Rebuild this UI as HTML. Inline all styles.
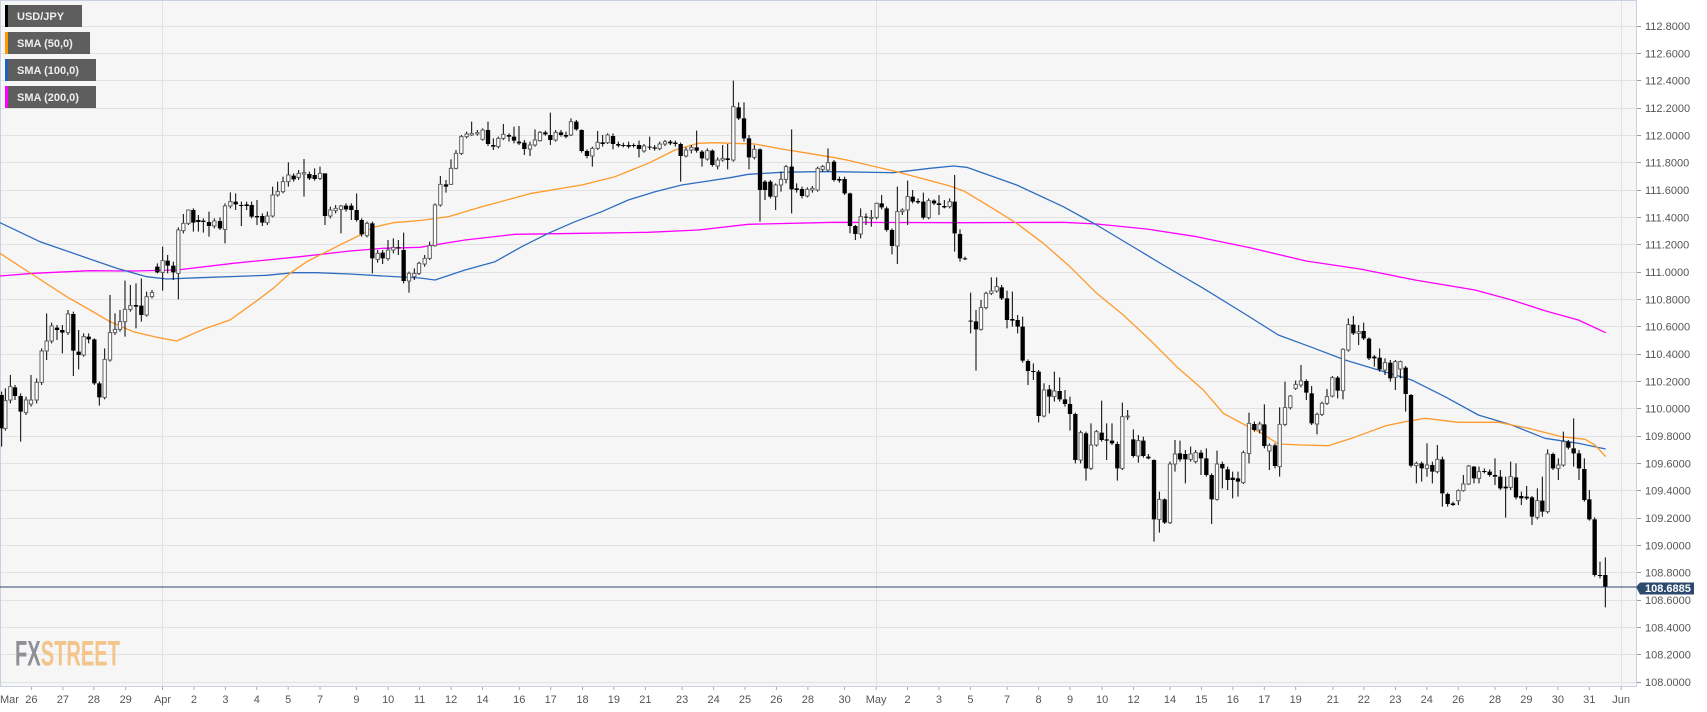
<!DOCTYPE html>
<html><head><meta charset="utf-8"><style>
html,body{margin:0;padding:0;background:#fff;}
svg{display:block;}
text{font-family:"Liberation Sans",Arial,sans-serif;}
</style></head><body>
<svg width="1707" height="712" viewBox="0 0 1707 712" xmlns="http://www.w3.org/2000/svg">
<rect x="0" y="0" width="1707" height="712" fill="#fff"/>
<rect x="0" y="0" width="1636" height="686.5" fill="#f6f6f6"/>
<g stroke="#e2e2e2" stroke-width="1" fill="none">
<path d="M0 26.5H1636M0 53.5H1636M0 80.5H1636M0 108.5H1636M0 135.5H1636M0 162.5H1636M0 190.5H1636M0 217.5H1636M0 244.5H1636M0 272.5H1636M0 299.5H1636M0 326.5H1636M0 354.5H1636M0 381.5H1636M0 408.5H1636M0 436.5H1636M0 463.5H1636M0 490.5H1636M0 518.5H1636M0 545.5H1636M0 572.5H1636M0 600.5H1636M0 627.5H1636M0 654.5H1636M0 682.5H1636"/>
<path d="M162.5 0V686M876.5 0V686M1621.5 0V686"/>
</g>
<g stroke="#c8d0e2" stroke-width="1" fill="none">
<path d="M0.5 0V686.5M0 0.5H1636.5M1636.5 0V686.5M0 686.5H1636.5"/>
</g>

<!-- logo -->
<text x="15" y="665.5" font-weight="bold" font-size="35" textLength="105" lengthAdjust="spacingAndGlyphs"><tspan fill="#8e9096">FX</tspan><tspan fill="#f4c58a">STREET</tspan></text>

<!-- SMAs -->
<g fill="none" stroke-width="1.3" stroke-linejoin="round">
<polyline stroke="#ff00ff" points="0,276 33.3,273.3 90,270.7 133.3,271 176.7,270 233.3,263.3 300,256.7 350,251 383.3,248.3 420,247.3 465,240 515,234.3 581.7,233.3 648.3,232.3 698.3,230 748.3,224.3 835,222.3 963.3,222.7 1063.3,222.3 1096.7,224 1146.7,229 1196.7,236.7 1250,247.7 1306,261 1360,269 1415,280 1475,290 1511.7,300 1545,310.7 1578.3,320 1605.7,332.7"/>
<polyline stroke="#2f6cc0" points="0,222.7 40,241.7 83.3,256.7 116.7,268.3 146.7,276.7 166.7,279 200,277.7 266.7,275.3 293.3,272.7 316.7,272.7 350,274 383.3,276 420,278 435,280 465,270 495,261.7 521.7,246.7 548.3,233.3 575,221.7 601.7,211.7 628.3,200 655,191.7 681.7,185 708.3,181 730,177.7 748.3,174.3 781.7,172.3 815,171.7 835,171.7 893.3,172.7 930,168.3 953.3,166 966.7,167.3 1016.7,185 1063.3,206.7 1096.7,225 1130,245 1163.3,265 1203.3,288.3 1245,314 1278.3,335 1311.7,347.3 1345,360 1378.3,370 1411.7,380 1445,396.7 1478.3,415 1511.7,425 1545,438.3 1578.3,443.3 1605.7,449"/>
<polyline stroke="#ff9a2a" points="0,253.3 33.3,275 66.7,296.7 90,310 110,321.7 133.3,331.7 156.7,337.3 176.7,341 203.3,329.3 230,320 253.3,303.3 273.3,288.3 290,273.3 306.7,261.7 323.3,253.3 343.3,243.3 360,235 373.3,227.3 393.3,222.7 420,220.5 448.3,216.7 481.7,206.7 531.7,193.3 581.7,185 615,176.7 648.3,163.3 675,150 698.3,143.3 715,142.7 731.7,143.3 755,144 781.7,149 808.3,153.3 835,157.7 846.7,160 896.7,171.7 950,186 963.3,190.7 990,206.7 1016.7,223.3 1043.3,243.3 1070,266.7 1096.7,293.3 1123.3,315 1150,340 1176.7,366.7 1203.3,390 1223.3,413.3 1245,425 1261.7,433.3 1278.3,444 1301.7,445 1328.3,445.7 1351.7,438.3 1385,426 1405,421.7 1425,418.3 1458.3,422.3 1498.3,422.3 1528.3,428.3 1561.7,436.7 1585,439.3 1595,445 1605.7,456.7"/>
</g>

<!-- Candles segment A -->
<g transform="translate(0 140) scale(0.333333)">
<path stroke="#000" stroke-width="3" fill="none" d="M5 755V920M16 745V872M31 705V790M45 735V780M62 760V905M78 770V825M93 705V800M110 715V790M125 625V735M140 520V660M155 548V610M171 555V600M187 555V640M204 510V585M220 515V708M236 570V688M251 580V650M266 580V610M283 595V735M298 725V797M314 625V778M330 465V665M345 520V585M360 510V575M375 422V590M391 435V515M408 430V565M424 415V545M440 455V530M456 450V475M472 370V400M488 320V452M503 345V400M520 365V420M535 262V478M550 222V280M565 208V255M580 205V275M595 225V275M610 235V278M627 215V290M643 235V265M660 232V270M675 190V310M691 157V205M707 160V210M724 185V258M740 185V210M755 185V235M771 180V255M787 220V258M802 215V255M818 140V232M833 125V170M849 110V160M865 67V140M881 100V125M896 90V120M912 57V170M928 95V120M944 85V122M960 80V120M975 100V255M991 200V235M1007 195V220M1023 195V280M1038 190V215M1054 190V240M1070 160V245M1085 235V290M1101 245V292M1117 245V400M1133 330V368M1148 330V372M1164 300V362M1180 295V340M1195 300V345M1211 278V430M1227 395V458M1243 385V420"/>
<path fill="#000" d="M-1.5 765h13v100h-13zM38.5 742h13v26h-13zM55.5 768h13v47h-13zM164.5 563h13v7h-13zM180.5 570h13v8h-13zM213.5 522h13v110h-13zM229.5 635h13v10h-13zM259.5 590h13v8h-13zM276.5 598h13v132h-13zM291.5 730h13v42h-13zM401.5 495h13v5h-13zM417.5 497h13v28h-13zM465.5 380h13v17h-13zM496.5 362h13v15h-13zM513.5 377h13v20h-13zM573.5 210h13v38h-13zM588.5 240h13v6h-13zM603.5 242h13v4h-13zM620.5 246h13v12h-13zM653.5 243h13v22h-13zM700.5 185h13v8h-13zM717.5 195h13v3h-13zM733.5 193h13v5h-13zM748.5 195h13v35h-13zM764.5 228h13v4h-13zM780.5 228h13v20h-13zM874.5 107h13v11h-13zM921.5 102h13v13h-13zM937.5 105h13v12h-13zM968.5 100h13v128h-13zM1031.5 197h13v11h-13zM1047.5 197h13v13h-13zM1063.5 210h13v30h-13zM1078.5 240h13v43h-13zM1110.5 250h13v105h-13zM1141.5 338h13v17h-13zM1188.5 322h13v3h-13zM1204.5 330h13v93h-13z"/>
<path fill="#fff" stroke="#606060" stroke-width="3" d="M11 782h10v83h-10zM26 740h10v40h-10zM73 780h10v38h-10zM88 780h10v12h-10zM105 727h10v53h-10zM120 633h10v94h-10zM135 603h10v30h-10zM150 558h10v45h-10zM199 522h10v56h-10zM246 590h10v55h-10zM309 658h10v114h-10zM325 578h10v82h-10zM340 568h10v10h-10zM355 545h10v23h-10zM370 508h10v37h-10zM386 497h10v11h-10zM435 470h10v55h-10zM451 458h10v12h-10zM483 362h10v35h-10zM530 270h10v130h-10zM545 250h10v22h-10zM560 210h10v40h-10zM638 243h10v15h-10zM670 198h10v70h-10zM686 185h10v13h-10zM797 228h10v20h-10zM813 165h10v63h-10zM828 155h10v10h-10zM844 125h10v30h-10zM860 105h10v20h-10zM891 100h10v12h-10zM907 98h10v4h-10zM955 100h10v15h-10zM986 210h10v18h-10zM1002 205h10v7h-10zM1018 198h10v10h-10zM1096 250h10v37h-10zM1128 340h10v18h-10zM1159 330h10v26h-10zM1175 322h10v8h-10zM1222 400h10v23h-10zM1238 400h10v10h-10z"/>
</g>

<!-- Candles segment B -->
<g transform="translate(415 70) scale(0.333333)">
<path stroke="#000" stroke-width="3" fill="none" d="M12 575V615M29 555V590M44 515V570M60 400V530M76 318V410M93 330V368M108 268V345M123 240V298M139 195V255M155 185V205M170 155V198M187 180V197M203 175V212M219 155V228M235 205V240M250 200V235M265 162V210M282 190V215M297 170V220M312 168V225M328 210V255M345 215V258M360 178V230M375 183V215M391 182V197M406 128V225M422 180V215M438 180V200M453 185V205M468 145V198M484 150V182M500 178V248M516 238V265M532 230V290M548 183V240M563 195V230M578 190V222M594 190V238M610 215V232M625 218V232M641 215V235M656 220V233M672 212V262M687 222V248M704 200V240M719 225V242M734 215V240M750 210V228M766 210V225M781 212V230M797 218V335M813 232V262M829 225V250M845 182V248M861 240V290M877 235V272M892 238V290M908 262V298M923 225V275M938 222V298M955 32V275M971 97V150M987 97V215M1002 195V298M1018 225V268M1035 235V455M1050 330V390M1066 330V385M1082 340V420M1098 305V365M1113 285V340M1130 178V430M1145 340V368M1161 350V385M1177 352V382M1192 348V368M1208 290V365M1223 285V305M1239 235V305"/>
<path fill="#000" d="M86.5 343h13v7h-13zM212.5 180h13v42h-13zM228.5 225h13v5h-13zM275.5 195h13v5h-13zM290.5 200h13v12h-13zM305.5 215h13v5h-13zM321.5 218h13v19h-13zM384.5 187h13v6h-13zM399.5 195h13v15h-13zM431.5 187h13v8h-13zM446.5 195h13v5h-13zM477.5 155h13v23h-13zM493.5 180h13v63h-13zM509.5 243h13v15h-13zM556.5 217h13v5h-13zM587.5 198h13v24h-13zM603.5 222h13v5h-13zM618.5 225h13v3h-13zM634.5 225h13v5h-13zM649.5 225h13v3h-13zM665.5 225h13v12h-13zM697.5 230h13v3h-13zM712.5 232h13v4h-13zM759.5 215h13v5h-13zM774.5 218h13v4h-13zM790.5 222h13v36h-13zM838.5 232h13v10h-13zM854.5 245h13v20h-13zM885.5 242h13v43h-13zM931.5 265h13v5h-13zM964.5 112h13v33h-13zM980.5 145h13v60h-13zM995.5 205h13v57h-13zM1028.5 238h13v122h-13zM1043.5 335h13v25h-13zM1059.5 335h13v45h-13zM1123.5 290h13v68h-13zM1138.5 355h13v5h-13zM1154.5 357h13v21h-13z"/>
<path fill="#fff" stroke="#606060" stroke-width="3" d="M7 580h10v30h-10zM24 565h10v17h-10zM39 527h10v38h-10zM55 405h10v122h-10zM71 343h10v62h-10zM103 295h10v48h-10zM118 250h10v45h-10zM134 200h10v50h-10zM150 192h10v8h-10zM165 190h10v5h-10zM182 188h10v4h-10zM198 180h10v28h-10zM245 205h10v25h-10zM260 193h10v12h-10zM340 225h10v12h-10zM355 210h10v15h-10zM370 187h10v25h-10zM417 187h10v23h-10zM463 155h10v40h-10zM527 235h10v23h-10zM543 217h10v18h-10zM573 195h10v23h-10zM682 228h10v15h-10zM729 222h10v14h-10zM745 215h10v7h-10zM808 240h10v18h-10zM824 232h10v8h-10zM872 242h10v25h-10zM903 270h10v18h-10zM918 265h10v5h-10zM950 110h10v160h-10zM1013 238h10v24h-10zM1077 345h10v35h-10zM1093 328h10v17h-10zM1108 290h10v38h-10zM1172 358h10v20h-10zM1187 355h10v5h-10zM1203 295h10v65h-10zM1218 290h10v8h-10zM1234 278h10v22h-10z"/>
</g>

<!-- Candles segment C -->
<g transform="translate(830 160) scale(0.333333)">
<path stroke="#000" stroke-width="3" fill="none" d="M12 0V65M28 50V68M44 50V105M60 98V220M76 195V240M92 145V235M108 160V195M124 150V200M140 128V178M155 105V148M170 140V215M186 205V283M202 80V312M217 145V165M233 62V195M248 90V130M264 115V132M280 98V178M296 115V178M312 118V135M327 105V165M343 120V145M359 115V145M374 45V275M390 208V305M405 290V300M422 398V520M438 450V632M453 420V512M468 395V448M484 352V405M500 352V398M515 375V420M531 392V505M547 395V500M563 465V520M578 470V608M594 598V675M610 610V660M626 630V787M642 670V772M658 675V760M673 635V725M689 652V725M705 690V740M720 710V812M736 758V910M752 812V910M768 815V962M783 790V930M799 810V860M815 722V845M830 790V900M846 790V855M862 845V962M877 728V930M893 750V780M910 808V893M925 825V908M940 830V893M955 882V898M972 898V1145M988 995V1118M1004 1015V1092M1020 905V1092M1035 840V935M1050 842V905M1066 870V970M1082 860V905M1097 870V910M1113 870V945M1129 865V950M1145 940V1092M1161 872V1022M1177 905V985M1193 920V990M1208 935V1015M1224 935V1010M1240 872V972"/>
<path fill="#000" d="M5.5 5h13v55h-13zM21.5 57h13v5h-13zM37.5 57h13v43h-13zM53.5 100h13v98h-13zM69.5 198h13v24h-13zM101.5 170h13v3h-13zM148.5 130h13v12h-13zM163.5 145h13v65h-13zM179.5 210h13v48h-13zM241.5 110h13v15h-13zM257.5 123h13v4h-13zM273.5 125h13v48h-13zM305.5 122h13v8h-13zM320.5 130h13v5h-13zM336.5 138h13v4h-13zM367.5 125h13v95h-13zM383.5 222h13v73h-13zM398.5 295h13v3h-13zM415.5 482h13v3h-13zM431.5 484h13v24h-13zM508.5 382h13v33h-13zM524.5 415h13v65h-13zM540.5 477h13v5h-13zM556.5 480h13v20h-13zM571.5 500h13v102h-13zM587.5 603h13v30h-13zM603.5 633h13v3h-13zM619.5 635h13v133h-13zM651.5 688h13v22h-13zM682.5 693h13v25h-13zM698.5 718h13v14h-13zM713.5 732h13v30h-13zM729.5 762h13v138h-13zM761.5 820h13v105h-13zM808.5 818h13v22h-13zM823.5 838h13v4h-13zM839.5 842h13v8h-13zM855.5 852h13v73h-13zM903.5 838h13v50h-13zM933.5 842h13v46h-13zM948.5 890h13v5h-13zM965.5 900h13v178h-13zM997.5 1018h13v70h-13zM1043.5 880h13v18h-13zM1059.5 882h13v16h-13zM1106.5 878h13v17h-13zM1122.5 895h13v50h-13zM1138.5 945h13v73h-13zM1170.5 912h13v13h-13zM1186.5 928h13v32h-13zM1201.5 953h13v7h-13zM1217.5 955h13v10h-13z"/>
<path fill="#fff" stroke="#606060" stroke-width="3" d="M87 170h10v52h-10zM119 172h10v3h-10zM135 130h10v42h-10zM197 155h10v103h-10zM212 150h10v5h-10zM228 110h10v40h-10zM291 122h10v51h-10zM354 125h10v15h-10zM448 443h10v65h-10zM463 400h10v43h-10zM479 393h10v7h-10zM495 380h10v13h-10zM637 690h10v78h-10zM668 693h10v17h-10zM747 818h10v82h-10zM778 855h10v70h-10zM794 815h10v40h-10zM872 770h10v155h-10zM888 768h10v3h-10zM920 842h10v46h-10zM983 1018h10v60h-10zM1015 912h10v176h-10zM1030 882h10v30h-10zM1077 882h10v16h-10zM1092 878h10v27h-10zM1156 912h10v106h-10zM1235 878h10v90h-10z"/>
</g>

<!-- Candles segment D -->
<g transform="translate(1245 290) scale(0.333333)">
<path stroke="#000" stroke-width="3" fill="none" d="M12 368V520M28 395V425M44 395V430M58 343V475M73 460V540M90 460V535M104 352V560M120 275V408M136 315V358M152 272V300M168 225V292M184 268V330M200 288V405M216 368V433M231 335V378M246 297V345M262 258V322M278 258V325M294 175V328M310 85V185M325 78V135M341 105V165M356 98V150M372 142V210M388 195V230M404 175V245M420 205V255M436 210V275M451 210V300M466 212V265M482 228V365M498 312V532M514 515V580M530 515V575M546 460V560M562 515V580M577 465V550M592 500V650M608 608V650M624 635V648M640 598V645M655 555V605M671 525V585M687 528V580M702 530V580M718 535V550M734 538V560M750 505V585M766 540V600M782 560V683M797 515V600M813 520V628M829 605V645M845 588V630M861 618V705M877 595V688M892 560V680M908 478V670M924 488V540M940 505V570M955 425V530M970 450V478M986 385V530M1002 480V570M1018 505V635M1033 600V692M1049 682V860M1065 815V865M1081 802V952"/>
<path fill="#000" d="M21.5 402h13v18h-13zM51.5 403h13v65h-13zM83.5 466h13v62h-13zM177.5 273h13v35h-13zM193.5 310h13v90h-13zM271.5 263h13v39h-13zM318.5 104h13v26h-13zM349.5 123h13v22h-13zM365.5 146h13v59h-13zM381.5 200h13v5h-13zM397.5 203h13v35h-13zM429.5 218h13v47h-13zM475.5 233h13v79h-13zM491.5 315h13v212h-13zM523.5 520h13v15h-13zM555.5 525h13v20h-13zM585.5 508h13v102h-13zM601.5 612h13v30h-13zM617.5 640h13v5h-13zM680.5 530h13v35h-13zM711.5 543h13v3h-13zM727.5 545h13v10h-13zM743.5 555h13v5h-13zM759.5 560h13v35h-13zM775.5 590h13v5h-13zM806.5 562h13v60h-13zM822.5 618h13v7h-13zM838.5 620h13v5h-13zM854.5 622h13v58h-13zM885.5 632h13v33h-13zM917.5 492h13v43h-13zM963.5 455h13v18h-13zM979.5 475h13v15h-13zM995.5 490h13v45h-13zM1011.5 537h13v93h-13zM1026.5 628h13v60h-13zM1042.5 688h13v167h-13zM1058.5 855h13v3h-13zM1074.5 855h13v35h-13z"/>
<path fill="#fff" stroke="#606060" stroke-width="3" d="M7 400h10v90h-10zM39 402h10v18h-10zM68 466h10v17h-10zM99 403h10v127h-10zM115 353h10v50h-10zM131 318h10v35h-10zM147 283h10v12h-10zM163 273h10v12h-10zM211 373h10v29h-10zM226 340h10v33h-10zM241 320h10v20h-10zM257 263h10v55h-10zM289 178h10v124h-10zM305 104h10v76h-10zM336 125h10v5h-10zM415 218h10v22h-10zM446 215h10v47h-10zM461 215h10v22h-10zM509 520h10v7h-10zM541 525h10v10h-10zM572 508h10v37h-10zM635 602h10v30h-10zM650 582h10v20h-10zM666 528h10v54h-10zM697 545h10v20h-10zM792 560h10v32h-10zM872 632h10v50h-10zM903 492h10v173h-10zM935 525h10v10h-10zM950 455h10v70h-10z"/>
</g>

<!-- current price line -->
<path d="M0 587H1636" stroke="#2e4a6c" stroke-width="1"/>

<!-- legend -->
<rect x="5" y="5" width="77" height="22" fill="#5e5e5e"/>
<rect x="5" y="5" width="3" height="22" fill="#000"/>
<text x="17" y="20" font-size="11" font-weight="bold" fill="#eeeeee">USD/JPY</text>
<rect x="5" y="32" width="85" height="22" fill="#5e5e5e"/>
<rect x="5" y="32" width="3" height="22" fill="#ff9900"/>
<text x="17" y="47" font-size="11" font-weight="bold" fill="#eeeeee">SMA (50,0)</text>
<rect x="5" y="59" width="91" height="22" fill="#5e5e5e"/>
<rect x="5" y="59" width="3" height="22" fill="#1f5fbf"/>
<text x="17" y="74" font-size="11" font-weight="bold" fill="#eeeeee">SMA (100,0)</text>
<rect x="5" y="86" width="91" height="22" fill="#5e5e5e"/>
<rect x="5" y="86" width="3" height="22" fill="#ff00ff"/>
<text x="17" y="101" font-size="11" font-weight="bold" fill="#eeeeee">SMA (200,0)</text>

<!-- y axis -->
<path stroke="#999" stroke-width="1" d="M1637 26.5h4M1637 53.5h4M1637 80.5h4M1637 108.5h4M1637 135.5h4M1637 162.5h4M1637 190.5h4M1637 217.5h4M1637 244.5h4M1637 272.5h4M1637 299.5h4M1637 326.5h4M1637 354.5h4M1637 381.5h4M1637 408.5h4M1637 436.5h4M1637 463.5h4M1637 490.5h4M1637 518.5h4M1637 545.5h4M1637 572.5h4M1637 600.5h4M1637 627.5h4M1637 654.5h4M1637 682.5h4"/>
<g font-size="11" fill="#555">
<text x="1645" y="30">112.8000</text>
<text x="1645" y="57.3">112.6000</text>
<text x="1645" y="84.7">112.4000</text>
<text x="1645" y="112">112.2000</text>
<text x="1645" y="139.3">112.0000</text>
<text x="1645" y="166.7">111.8000</text>
<text x="1645" y="194">111.6000</text>
<text x="1645" y="221.3">111.4000</text>
<text x="1645" y="248.7">111.2000</text>
<text x="1645" y="276">111.0000</text>
<text x="1645" y="303.3">110.8000</text>
<text x="1645" y="330.7">110.6000</text>
<text x="1645" y="358">110.4000</text>
<text x="1645" y="385.3">110.2000</text>
<text x="1645" y="412.7">110.0000</text>
<text x="1645" y="440">109.8000</text>
<text x="1645" y="467.3">109.6000</text>
<text x="1645" y="494.7">109.4000</text>
<text x="1645" y="522">109.2000</text>
<text x="1645" y="549.3">109.0000</text>
<text x="1645" y="576.7">108.8000</text>
<text x="1645" y="604">108.6000</text>
<text x="1645" y="631.3">108.4000</text>
<text x="1645" y="658.7">108.2000</text>
<text x="1645" y="686">108.0000</text>
</g>

<!-- price label -->
<path d="M1636 587L1640 582.5H1694V594.5H1640Z" fill="#2d4a6e"/>
<text x="1645" y="592" font-size="11" font-weight="bold" fill="#fff">108.6885</text>

<!-- x axis -->
<path stroke="#aaa" stroke-width="1" d="M31.4 687v3M62.9 687v3M93.9 687v3M125.7 687v3M162.5 687v3M193.9 687v3M225.4 687v3M256.8 687v3M288.2 687v3M320 687v3M356.4 687v3M388.2 687v3M419.6 687v3M451.1 687v3M482.5 687v3M519.3 687v3M550.7 687v3M582.5 687v3M613.9 687v3M645.4 687v3M682.1 687v3M713.6 687v3M745 687v3M776.4 687v3M807.9 687v3M844.6 687v3M876.1 687v3M907.5 687v3M938.9 687v3M970.4 687v3M1007.1 687v3M1038.6 687v3M1070 687v3M1102.1 687v3M1133.6 687v3M1170 687v3M1201.4 687v3M1232.9 687v3M1264.3 687v3M1295.7 687v3M1332.9 687v3M1363.9 687v3M1395.4 687v3M1426.8 687v3M1458.2 687v3M1495 687v3M1526.4 687v3M1557.9 687v3M1589.3 687v3M1621.1 687v3"/>
<g font-size="11" fill="#555" text-anchor="middle">
<text x="0" y="703" text-anchor="start">Mar</text>
<text x="31.4" y="703">26</text>
<text x="62.9" y="703">27</text>
<text x="93.9" y="703">28</text>
<text x="125.7" y="703">29</text>
<text x="162.5" y="703">Apr</text>
<text x="193.9" y="703">2</text>
<text x="225.4" y="703">3</text>
<text x="256.8" y="703">4</text>
<text x="288.2" y="703">5</text>
<text x="320" y="703">7</text>
<text x="356.4" y="703">9</text>
<text x="388.2" y="703">10</text>
<text x="419.6" y="703">11</text>
<text x="451.1" y="703">12</text>
<text x="482.5" y="703">14</text>
<text x="519.3" y="703">16</text>
<text x="550.7" y="703">17</text>
<text x="582.5" y="703">18</text>
<text x="613.9" y="703">19</text>
<text x="645.4" y="703">21</text>
<text x="682.1" y="703">23</text>
<text x="713.6" y="703">24</text>
<text x="745" y="703">25</text>
<text x="776.4" y="703">26</text>
<text x="807.9" y="703">28</text>
<text x="844.6" y="703">30</text>
<text x="876.1" y="703">May</text>
<text x="907.5" y="703">2</text>
<text x="938.9" y="703">3</text>
<text x="970.4" y="703">5</text>
<text x="1007.1" y="703">7</text>
<text x="1038.6" y="703">8</text>
<text x="1070" y="703">9</text>
<text x="1102.1" y="703">10</text>
<text x="1133.6" y="703">12</text>
<text x="1170" y="703">14</text>
<text x="1201.4" y="703">15</text>
<text x="1232.9" y="703">16</text>
<text x="1264.3" y="703">17</text>
<text x="1295.7" y="703">19</text>
<text x="1332.9" y="703">21</text>
<text x="1363.9" y="703">22</text>
<text x="1395.4" y="703">23</text>
<text x="1426.8" y="703">24</text>
<text x="1458.2" y="703">26</text>
<text x="1495" y="703">28</text>
<text x="1526.4" y="703">29</text>
<text x="1557.9" y="703">30</text>
<text x="1589.3" y="703">31</text>
<text x="1621.1" y="703">Jun</text>
</g>
</svg>
</body></html>
